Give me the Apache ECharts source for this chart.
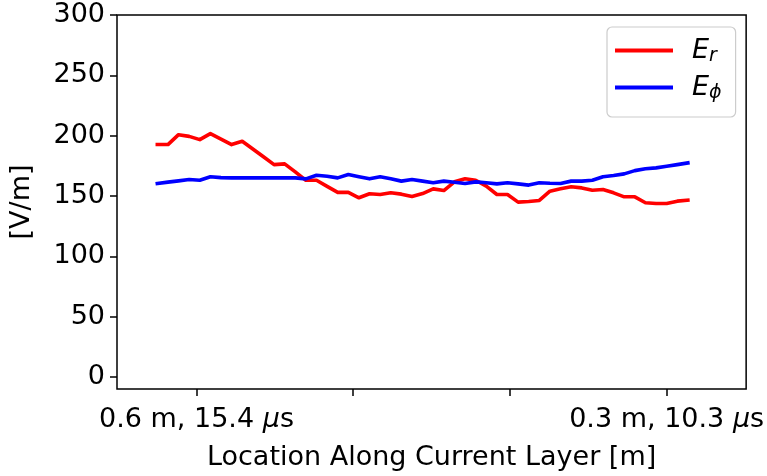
<!DOCTYPE html>
<html>
<head>
<meta charset="utf-8">
<script src="https://cdn.jsdelivr.net/npm/echarts@6/dist/echarts.min.js"></script>
<style>
  html, body { margin: 0; padding: 0; background: #fff; }
  #chart { width: 767px; height: 476px; }
</style>
</head>
<body>
<div id="chart"></div>
<script>
// samples along the layer (index 0..50), values in V/m
var erValues = [
  192.6, 192.6, 200.8, 199.4, 196.7, 201.7, 197.2, 192.6, 195.3, 189.0,
  182.5, 176.0, 176.6, 170.0, 163.0, 163.0, 158.0, 153.0, 153.0, 148.5,
  151.8, 151.2, 152.6, 151.5, 149.5, 152.0, 155.9, 154.5, 161.7, 164.2,
  163.0, 158.1, 151.2, 151.2, 144.9, 145.4, 146.3, 154.0, 155.9, 157.6,
  156.7, 154.8, 155.4, 152.6, 149.3, 149.3, 144.4, 143.8, 143.8, 145.7,
  146.5
]
var ephiValues = [
  160.3, 161.5, 162.5, 163.6, 163.0, 165.9, 165.2, 165.0, 165.0, 165.0,
  165.0, 165.0, 165.0, 165.0, 164.2, 167.2, 166.4, 165.0, 167.8, 165.9,
  164.2, 165.9, 164.2, 162.3, 163.6, 162.3, 160.9, 162.3, 161.4, 160.3,
  161.7, 160.9, 160.0, 160.9, 160.0, 159.0, 160.9, 160.5, 160.3, 162.3,
  162.3, 163.0, 165.9, 166.9, 168.3, 171.0, 172.5, 173.3, 174.6, 176.0,
  177.4
]
var xTickPos = [3.69, 18.46, 33.23, 48.0]
var xTickText = ['0.6 m, 15.4 {mu|μ}s', '', '', '0.3 m, 10.3 {mu|μ}s']
var yTicks = [0, 50, 100, 150, 200, 250, 300]

var FONT = 'DejaVu Sans'
var FS = 27
var chart = echarts.init(document.getElementById('chart'))

function toPoints(vals) {
  return vals.map(function(v, i) { return [i, v] })
}

chart.setOption({
  animation: false,
  grid: {
    left: 116, right: 20, top: 15, bottom: 86,
    show: true, borderColor: '#000', borderWidth: 1.5
  },
  legend: {
    orient: 'vertical',
    left: 607, top: 27,
    padding: [10, 14, 14, 8],
    itemWidth: 58, itemHeight: 4,
    itemGap: 8,
    icon: 'rect',
    backgroundColor: 'rgba(255,255,255,0.8)',
    borderColor: '#cccccc', borderWidth: 1.2, borderRadius: 5,
    data: ['Er', 'Ephi'],
    formatter: function(name) {
      return name === 'Er' ? '{e|E}{s|r}' : '{e|E}{s|ϕ}'
    },
    textStyle: {
      rich: {
        e: { fontFamily: FONT, fontStyle: 'italic', fontSize: FS, color: '#000', lineHeight: 31, padding: [0, 0, 0, 14] },
        s: { fontFamily: FONT, fontStyle: 'italic', fontSize: 19, color: '#000', lineHeight: 17, verticalAlign: 'bottom' }
      }
    }
  },
  xAxis: {
    type: 'value',
    min: -3.8, max: 55.49,
    name: 'Location Along Current Layer [m]',
    nameLocation: 'middle',
    nameGap: 55,
    nameTextStyle: { fontFamily: FONT, fontSize: FS, color: '#000' },
    axisLine: { show: false, onZero: false },
    splitLine: { show: false },
    axisTick: { show: true, length: 7, lineStyle: { color: '#000', width: 1.5 }, customValues: xTickPos },
    axisLabel: {
      customValues: xTickPos,
      margin: 17,
      fontFamily: FONT, fontSize: FS, color: '#000',
      formatter: function(v) {
        var k = xTickPos.indexOf(v)
        return k >= 0 ? xTickText[k] : ''
      },
      rich: {
        mu: { fontFamily: FONT, fontStyle: 'italic', fontSize: FS, color: '#000' }
      }
    }
  },
  yAxis: {
    type: 'value',
    min: -10, max: 300,
    name: '[V/m]',
    nameLocation: 'middle',
    nameGap: 82,
    nameTextStyle: { fontFamily: FONT, fontSize: FS, color: '#000' },
    axisLine: { show: false, onZero: false },
    splitLine: { show: false },
    axisTick: { show: true, length: 7, lineStyle: { color: '#000', width: 1.5 }, customValues: yTicks },
    axisLabel: {
      customValues: yTicks,
      margin: 12,
      fontFamily: FONT, fontSize: FS, color: '#000'
    }
  },
  series: [
    {
      name: 'Er', type: 'line', showSymbol: false, symbol: 'none',
      lineStyle: { color: '#ff0000', width: 3.6, cap: 'square', join: 'round' },
      itemStyle: { color: '#ff0000' },
      data: toPoints(erValues)
    },
    {
      name: 'Ephi', type: 'line', showSymbol: false, symbol: 'none',
      lineStyle: { color: '#0000ff', width: 3.6, cap: 'square', join: 'round' },
      itemStyle: { color: '#0000ff' },
      data: toPoints(ephiValues)
    }
  ]
})
</script>
</body>
</html>
